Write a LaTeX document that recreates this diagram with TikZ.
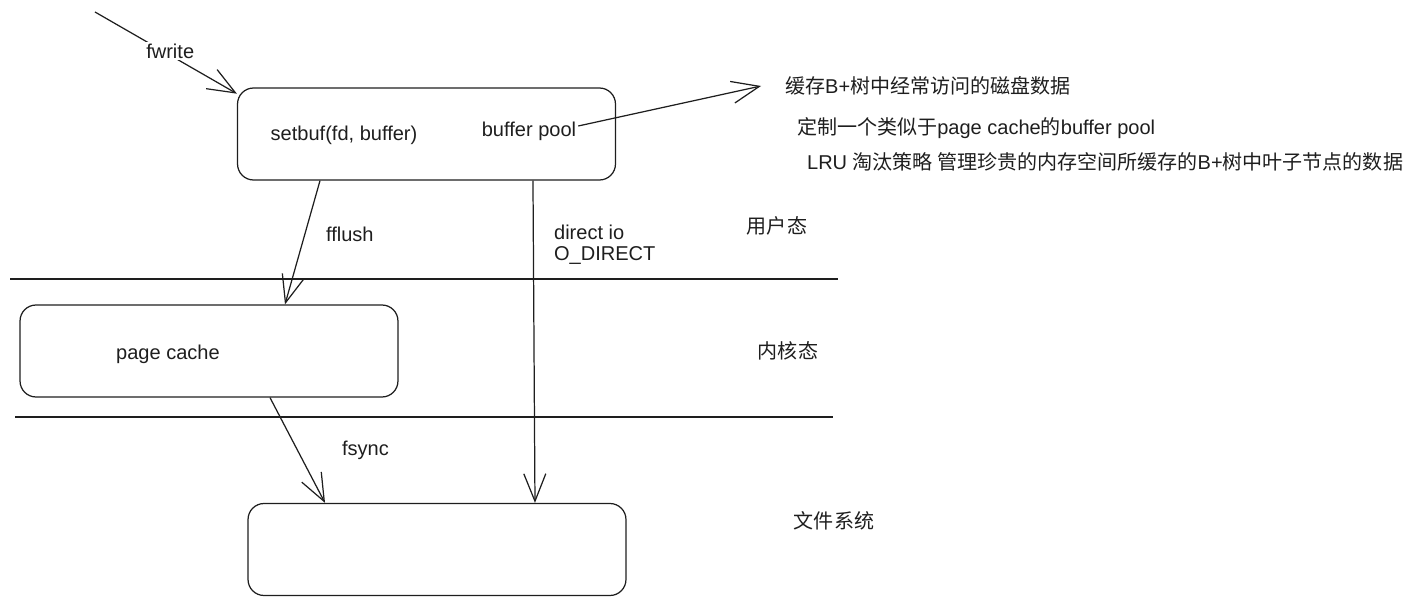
\documentclass[tikz,border=0pt]{standalone}
\usepackage{fontspec}
\setmainfont{Liberation Sans}
\newfontfamily\cjk{Noto Sans CJK SC}
\usetikzlibrary{arrows.meta}
\usetikzlibrary{math}
\definecolor{qink}{RGB}{30,30,30}
\newcommand{\zh}[1]{{\cjk #1}}

\begin{document}
\begin{tikzpicture}[x=0.02cm,y=-0.02cm,
  box/.style={draw=qink,line width=0.7pt,rounded corners=0.32cm,minimum width=7.56cm,minimum height=1.84cm},
  txt/.style={text=qink,inner sep=1pt,font=\fontsize{11.4}{12}\selectfont},
  flow/.style={draw=qink,line width=0.7pt,-{Straight Barb[length=5.5mm,width=4.4mm]}},
  layer/.style={draw=qink,line width=0.8pt}]

\tikzmath{
\yU = 279;
\yK = 417;
}
\useasboundingbox (0,0) rectangle (1413,604);

%boxes
\node[box] (user) at (426.5,134) {};
\node[box] (kern) at (209,351) {};
\node[box] (fs) at (437,549.5) {};

\node[txt] (setbuf) at (344,135) {setbuf(fd, buffer)};
\node[txt] (bp) at (529,131) {buffer pool};
\node[txt] (pc) at (168,354) {page cache};

%notes
\node[txt,right] (note1) at (783,86) {\zh{缓存}B+\zh{树中经常访问的磁盘数据}};
\node[txt,right] (note2) at (795,128) {\zh{定制一个类似于}page cache\zh{的}buffer pool};
\node[txt,right] (note3) at (805,162) {LRU \zh{淘汰策略 管理珍贵的内存空间所缓存的}B+\zh{树中叶子节点的数据}};

%layers
\draw[layer] (10,\yU) -- (838,\yU);
\draw[layer] (15,\yK) -- (833,\yK);
\node[txt] (ustate) at (777,226) {\zh{用户态}};
\node[txt] (kstate) at (788,351) {\zh{内核态}};
\node[txt] (fsstate) at (834,521) {\zh{文件系统}};

%arrows
\coordinate (src) at (95,12);
\draw[flow] (src) -- node[txt,fill=white,pos=0.53,yshift=0.08cm] (fw) {fwrite} (user.168.2);
\draw[flow] ([yshift=0.1cm]bp.east) -- ([xshift=-0.44cm]note1.west);

\draw[flow] ([xshift=-2.13cm]user.south) -- ([xshift=1.52cm]kern.north);
\node[txt,right] (ffl) at (324,234) {fflush};

\draw[flow] ([xshift=2.13cm]user.south) -- ([xshift=1.96cm]fs.north);
\node[txt,right,align=left] (dio) at (552,245) {direct io\\O\_DIRECT};

\draw[flow] ([xshift=1.22cm]kern.south) -- ([xshift=-2.24cm]fs.north);
\node[txt,right] (fsy) at (340,450) {fsync};

\end{tikzpicture}
\end{document}
